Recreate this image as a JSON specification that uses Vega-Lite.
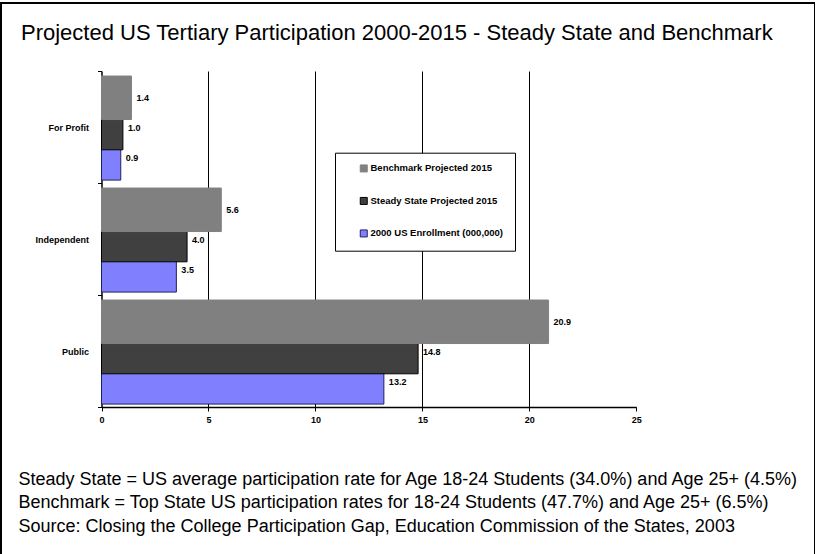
{
  "$schema": "https://vega.github.io/schema/vega-lite/v6.json",
  "width": 814,
  "height": 560,
  "autosize": {"type": "none"},
  "padding": {"left": 1, "top": 3, "right": 0, "bottom": 0},
  "background": "white",
  "title": {
    "text": "Projected US Tertiary Participation 2000-2015 - Steady State and Benchmark",
    "anchor": "start",
    "frame": "group",
    "orient": "top",
    "offset": 0,
    "baseline": "alphabetic",
    "dx": 20,
    "dy": 63.4,
    "font": "Liberation Sans",
    "fontSize": 22,
    "fontWeight": "normal",
    "color": "#000000"
  },
  "data": {
    "values": [
      {"type": "For Profit", "series": "2000 US Enrollment (000,000)", "value": 0.9},
      {"type": "For Profit", "series": "Steady State Projected 2015", "value": 1.0},
      {"type": "For Profit", "series": "Benchmark Projected 2015", "value": 1.4},
      {"type": "Independent", "series": "2000 US Enrollment (000,000)", "value": 3.5},
      {"type": "Independent", "series": "Steady State Projected 2015", "value": 4.0},
      {"type": "Independent", "series": "Benchmark Projected 2015", "value": 5.6},
      {"type": "Public", "series": "2000 US Enrollment (000,000)", "value": 13.2},
      {"type": "Public", "series": "Steady State Projected 2015", "value": 14.8},
      {"type": "Public", "series": "Benchmark Projected 2015", "value": 20.9}
    ]
  },
  "encoding": {
    "y": {
      "field": "type",
      "type": "nominal",
      "scale": {"domain": ["For Profit", "Independent", "Public"], "range": [68, 404], "paddingInner": 0, "paddingOuter": 0},
      "axis": {
        "title": null,
        "orient": "left",
        "offset": -100.5,
        "tickBand": "extent",
        "tickSize": 4,
        "tickColor": "#000000",
        "domainColor": "#000000",
        "domainWidth": 1.5,
        "labelFont": "Liberation Sans",
        "labelFontWeight": "bold",
        "labelFontSize": 9,
        "labelColor": "#000000",
        "labelPadding": 9,
        "grid": false
      }
    },
    "yOffset": {
      "field": "series",
      "type": "nominal",
      "scale": {"domain": ["Benchmark Projected 2015", "Steady State Projected 2015", "2000 US Enrollment (000,000)"], "paddingInner": 0, "paddingOuter": 0.35, "align": 0.55}
    }
  },
  "layer": [
    {
      "mark": {"type": "bar", "height": 43.5, "strokeWidth": 1},
      "encoding": {
        "x": {
          "field": "value",
          "type": "quantitative",
          "stack": null,
          "scale": {"domain": [0, 25], "range": [100.5, 635.3], "nice": false},
          "axis": {
            "orient": "bottom",
            "offset": -156,
            "values": [0, 5, 10, 15, 20, 25],
            "tickSize": 4,
            "tickColor": "#000000",
            "domainColor": "#000000",
            "domainWidth": 1.5,
            "labelFont": "Liberation Sans",
            "labelFontWeight": "bold",
            "labelFontSize": 9,
            "labelColor": "#000000",
            "labelPadding": 4,
            "labelFlush": false,
            "grid": false,
            "title": [
              "Steady State = US average participation rate for Age 18-24 Students (34.0%) and Age 25+ (4.5%)",
              "Benchmark = Top State US participation rates for 18-24 Students (47.7%) and Age 25+ (6.5%)",
              "Source: Closing the College Participation Gap, Education Commission of the States, 2003"
            ],
            "titleFont": "Liberation Sans",
            "titleFontSize": 18,
            "titleFontWeight": "normal",
            "titleColor": "#000000",
            "titleAlign": "left",
            "titleAnchor": "start",
            "titleBaseline": "top",
            "titleX": 17,
            "titleY": 63,
            "titleLineHeight": 23.5
          }
        },
        "color": {
          "field": "series",
          "type": "nominal",
          "scale": {
            "domain": ["Benchmark Projected 2015", "Steady State Projected 2015", "2000 US Enrollment (000,000)"],
            "range": ["#808080", "#404040", "#8080ff"]
          },
          "legend": {
            "title": null,
            "orient": "none",
            "legendX": 334,
            "legendY": 149.7,
            "direction": "vertical",
            "fillColor": "#ffffff",
            "strokeColor": "#000000",
            "padding": 11,
            "symbolOffset": 13,
            "symbolType": "square",
            "symbolSize": 49,
            "symbolStrokeWidth": 1,
            "labelFont": "Liberation Sans",
            "labelFontWeight": "bold",
            "labelFontSize": 9.5,
            "labelColor": "#000000",
            "labelOffset": 2,
            "labelLimit": 400,
            "labelExpr": "datum.label + '\u00a0\u00a0\u00a0\u00a0\u00a0\u00a0\u00a0\u00a0\u00a0\u00a0\u00a0\u00a0\u00a0\u00a0'",
            "rowPadding": 20.5
          }
        },
        "stroke": {
          "field": "series",
          "type": "nominal",
          "scale": {
            "domain": ["Benchmark Projected 2015", "Steady State Projected 2015", "2000 US Enrollment (000,000)"],
            "range": ["#808080", "#000000", "#22225a"]
          }
        }
      }
    },
    {
      "mark": {"type": "text", "align": "left", "baseline": "middle", "dx": 5, "font": "Liberation Sans", "fontWeight": "bold", "fontSize": 9, "color": "#000000"},
      "encoding": {
        "x": {
          "field": "value",
          "type": "quantitative",
          "stack": null,
          "axis": {
            "orient": "top",
            "values": [5, 10, 15, 20],
            "grid": true,
            "gridColor": "#000000",
            "gridWidth": 1,
            "gridOpacity": 1,
            "domain": false,
            "ticks": false,
            "labels": false,
            "title": null
          }
        },
        "text": {"field": "value", "type": "quantitative", "format": ".1f"}
      }
    }
  ],
  "resolve": {"axis": {"x": "independent"}},
  "config": {
    "view": {"stroke": "#000000", "strokeWidth": 2}
  }
}
